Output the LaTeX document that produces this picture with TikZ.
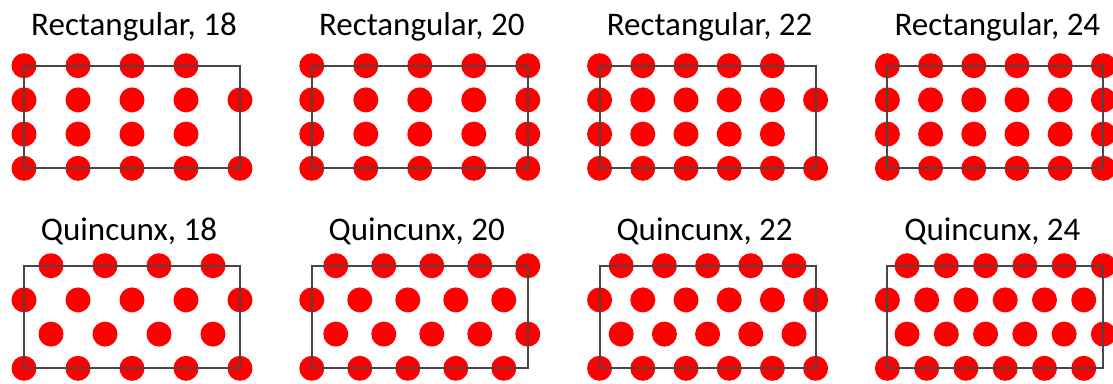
\documentclass[tikz,border=0pt]{standalone}
\usepackage{fontspec}
\setmainfont{Carlito}
\tikzset{
  dot/.style={fill=red},
  cell/.style={draw=black!72, line width=2pt},
  title/.style={font=\fontsize{33}{36}\selectfont, anchor=base}
}

\begin{document}
\begin{tikzpicture}[x=1pt, y=-1pt]
\useasboundingbox (0,0) rectangle (1113,383);
% rectangular patterns
\foreach \p/\n/\s/\na/\nb in {0/18/54/3/4, 1/20/54/4/4, 2/22/43.2/4/5, 3/24/43.2/5/5} {
  \pgfmathsetmacro\xl{24+287.8*\p}
  \foreach \r/\m in {0/\na,1/\nb,2/\na,3/\nb}
    \foreach \k in {0,...,\m} \fill[dot] (\xl+\k*\s, 65.7+\r*34.2) circle (12.5pt);
  \draw[cell] (\xl,65.7) rectangle +(216,102.6);
  \node[title] (rect\n) at (\xl+110,35) {Rectangular, \n};
}
% quincunx patterns
\foreach \p/\n/\s/\na/\nb in {0/18/54/3/4, 1/20/48/4/4, 2/22/43.2/4/5, 3/24/39.27/5/5} {
  \pgfmathsetmacro\xl{24+287.8*\p}
  \foreach \r/\m/\o in {0/\na/0.5,1/\nb/0,2/\na/0.5,3/\nb/0}
    \foreach \k in {0,...,\m} \fill[dot] (\xl+\k*\s+\o*\s, 265.7+\r*34.2) circle (12.5pt);
  \draw[cell] (\xl,265.7) rectangle +(216,102.6);
  \node[title] (quin\n) at (\xl+105,240.5) {Quincunx, \n};
}
\end{tikzpicture}
\end{document}
